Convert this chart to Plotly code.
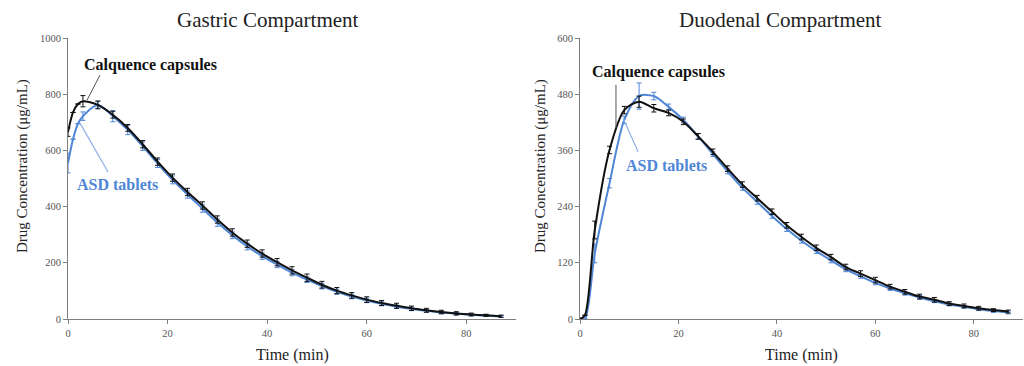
import plotly.graph_objects as go
from plotly.subplots import make_subplots

# ---------------- data ----------------
time_g = [0, 1, 2, 3, 6, 9, 12, 15, 18, 21, 24, 27, 30, 33, 36, 39, 42, 45, 48, 51, 54, 57, 60, 63, 66, 69, 72, 75, 78, 81, 84, 87]
gastric_calq = [665, 735, 765, 775, 762, 727, 680, 622, 560, 503, 452, 404, 354, 308, 268, 233, 202, 173, 147, 122, 101, 84, 69, 57, 47, 38, 31, 25, 20, 16, 13, 10]
gastric_calq_err = [15, None, None, 20, 14, 12, 12, 13, 13, 13, 13, 13, 13, 13, 13, 13, 13, 13, 13, 12, 11, 10, 10, 9, 9, 8, 7, 6, 6, 5, 4, 4]
gastric_asd = [555, 640, 695, 722, 762, 722, 673, 615, 553, 495, 443, 393, 343, 298, 258, 224, 194, 165, 140, 117, 97, 80, 66, 54, 44, 36, 29, 23, 19, 15, 12, 9]
gastric_asd_err = [35, None, None, 15, 12, 20, 17, 15, 14, 14, 13, 13, 13, 12, 12, 12, 11, 11, 10, 10, 9, 8, 8, 7, 6, 6, 5, 5, 4, 4, 3, 3]

time_d = [0, 1, 3, 6, 9, 12, 15, 18, 21, 24, 27, 30, 33, 36, 39, 42, 45, 48, 51, 54, 57, 60, 63, 66, 69, 72, 75, 78, 81, 84, 87]
duod_calq = [0, 8, 190, 361, 446, 464, 450, 440, 421, 390, 357, 321, 287, 258, 229, 200, 175, 152, 132, 111, 97, 83, 69, 58, 48, 41, 33, 28, 23, 19, 16]
duod_calq_err = [2, None, 19, 8, 8, 12, 8, 6, 6, 6, 6, 6, 6, 6, 6, 6, 6, 6, 6, 6, 6, 6, 5, 5, 5, 5, 4, 4, 4, 3, 3]
duod_asd = [0, 0, 140, 290, 425, 476, 476, 453, 425, 390, 352, 315, 280, 250, 220, 192, 167, 145, 125, 106, 91, 77, 65, 55, 46, 38, 31, 26, 21, 17, 14]
duod_asd_err = [1, None, 20, 10, 8, 28, 8, 6, 6, 6, 5, 5, 5, 5, 5, 5, 5, 5, 5, 5, 4, 4, 4, 4, 4, 3, 3, 3, 3, 3, 3]

x_ticks = [0, 20, 40, 60, 80]
gastric_y_ticks = [0, 200, 400, 600, 800, 1000]
duod_y_ticks = [0, 120, 240, 360, 480, 600]

titles = ["Gastric Compartment", "Duodenal Compartment"]
label_calq = "Calquence capsules"
label_asd = "ASD tablets"
y_title = "Drug Concentration (μg/mL)"
x_title = "Time (min)"

# ---------------- styles ----------------
BLACK = "#111111"
BLUE = "#4f86d6"
FONT = "Liberation Serif"

fig = make_subplots(rows=1, cols=2)


def add_series(t, y, err, color, col, width):
    fig.add_trace(go.Scatter(
        x=t, y=y, mode="lines",
        line=dict(color=color, width=width, shape="spline", smoothing=0.8),
        error_y=dict(type="data", array=err, visible=True, color=color, thickness=1, width=2.5),
        showlegend=False, hoverinfo="skip"), row=1, col=col)


add_series(time_g, gastric_asd, gastric_asd_err, BLUE, 1, 2)
add_series(time_g, gastric_calq, gastric_calq_err, BLACK, 1, 2)
add_series(time_d, duod_asd, duod_asd_err, BLUE, 2, 2)
add_series(time_d, duod_calq, duod_calq_err, BLACK, 2, 2)

axis_common = dict(showgrid=False, zeroline=False, showline=True, linecolor="#808080", linewidth=1,
                   ticks="outside", ticklen=4, tickcolor="#808080", automargin=False,
                   tickfont=dict(family=FONT, size=10.5, color="#555555"))

H = 366.0
W = 1024.0
ydom = [(H - 319) / H, (H - 38) / H]
fig.update_xaxes(axis_common, range=[0, 90], tickvals=x_ticks)
fig.update_xaxes(domain=[68 / W, 516 / W], row=1, col=1)
fig.update_xaxes(domain=[580 / W, 1023 / W], row=1, col=2)
fig.update_yaxes(axis_common, domain=ydom)
fig.update_yaxes(range=[0, 1000], tickvals=gastric_y_ticks, row=1, col=1)
fig.update_yaxes(range=[0, 600], tickvals=duod_y_ticks, row=1, col=2)

ann = []
# panel titles
for txt, xc in zip(titles, [268, 780]):
    ann.append(dict(text=txt, x=xc / W, y=(H - 20) / H, xref="paper", yref="paper", showarrow=False,
                    xanchor="center", yanchor="middle", font=dict(family=FONT, size=21, color="#222222")))
# axis titles
for xc in [23, 541]:
    ann.append(dict(text=y_title, x=xc / W, y=(H - 166) / H, xref="paper", yref="paper", showarrow=False,
                    textangle=-90, xanchor="center", yanchor="middle",
                    font=dict(family=FONT, size=15, color="#222222")))
for xc in [292, 801]:
    ann.append(dict(text=x_title, x=xc / W, y=(H - 355) / H, xref="paper", yref="paper", showarrow=False,
                    xanchor="center", yanchor="middle", font=dict(family=FONT, size=16, color="#222222")))

# series labels
ann += [
    dict(text="<b>" + label_calq + "</b>", x=16.5, y=904, xref="x", yref="y", showarrow=False,
         font=dict(family=FONT, size=16, color=BLACK)),
    dict(text="<b>" + label_asd + "</b>", x=9.85, y=477, xref="x", yref="y", showarrow=False,
         font=dict(family=FONT, size=16, color=BLUE)),
    dict(text="<b>" + label_calq + "</b>", x=16.0, y=527, xref="x2", yref="y2", showarrow=False,
         font=dict(family=FONT, size=16, color=BLACK)),
    dict(text="<b>" + label_asd + "</b>", x=17.5, y=327, xref="x2", yref="y2", showarrow=False,
         font=dict(family=FONT, size=16, color=BLUE)),
]

shapes = [
    dict(type="line", xref="x", yref="y", x0=6.43, y0=868, x1=3.82, y1=779, line=dict(color="#555555", width=1)),
    dict(type="line", xref="x", yref="y", x0=8.04, y0=523, x1=2.41, y1=697, line=dict(color="#8fb0e6", width=1.2)),
    dict(type="line", xref="x2", yref="y2", x0=7.31, y0=500, x1=7.31, y1=408, line=dict(color="#555555", width=1)),
    dict(type="line", xref="x2", yref="y2", x0=11.8, y0=357, x1=8.74, y1=429, line=dict(color="#8fb0e6", width=1.2)),
]

fig.update_layout(width=1024, height=366, margin=dict(l=0, r=0, t=0, b=0),
                  paper_bgcolor="white", plot_bgcolor="white",
                  annotations=ann, shapes=shapes)

fig.write_html("out.html", config={"displayModeBar": False},
               post_script="document.body.style.margin='0';document.body.style.overflow='hidden';")
